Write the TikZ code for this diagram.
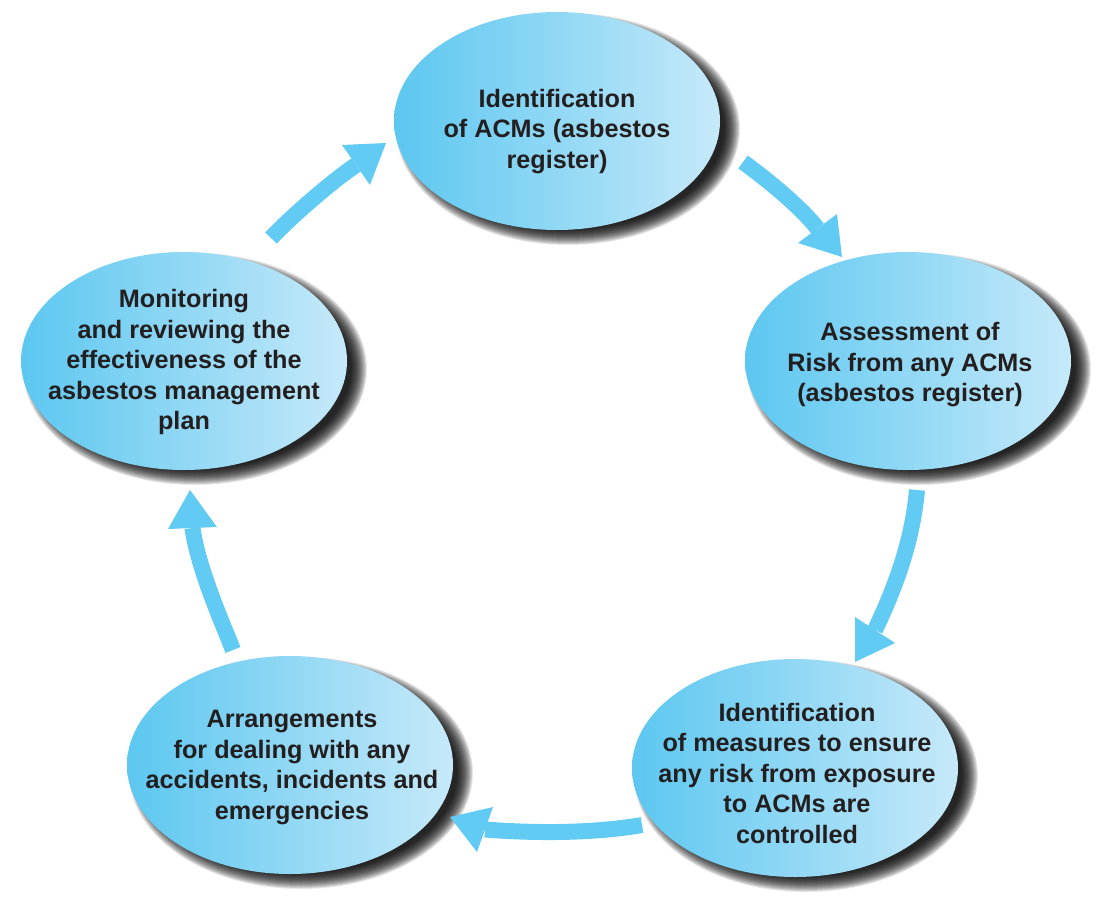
\documentclass[tikz,border=0pt]{standalone}
\usepackage{fontspec}
\setmainfont{Liberation Sans}
\usetikzlibrary{shapes.geometric}
\definecolor{ellL}{RGB}{92,199,240}
\definecolor{ellR}{RGB}{198,233,249}
\definecolor{arr}{RGB}{98,203,243}
\definecolor{txt}{RGB}{35,31,32}
\begin{document}
\begin{tikzpicture}[x=1pt,y=-1pt,
  stage/.style={ellipse, minimum width=326pt, minimum height=218pt, inner sep=0pt,
    left color=ellL, right color=ellR},
  lbl/.style={align=center, text=txt, font=\bfseries\fontsize{25.2}{30.5}\selectfont, inner sep=0pt},
  shaft/.style={draw=arr, line width=16pt},
  head/.style={fill=arr},
  shadowlayer/.style={fill=black, fill opacity=0.1, draw=none}]
\useasboundingbox[fill=white] (0,0) rectangle (1112,908);

% centres
\coordinate (c1) at (557,121);
\coordinate (c2) at (908,361);
\coordinate (c3) at (795,768);
\coordinate (c4) at (290,765);
\coordinate (c5) at (184,361);

% soft drop shadows (lower right)
\foreach \c in {c1,c2,c3,c4,c5}{
  \foreach \k in {0,...,16}{
    \fill[shadowlayer] ([shift={(11,8)}]\c) ellipse ({172-\k} and {116-\k});
  }
}

% stages
\node[stage] (e1) at (c1) {};
\node[stage] (e2) at (c2) {};
\node[stage] (e3) at (c3) {};
\node[stage] (e4) at (c4) {};
\node[stage] (e5) at (c5) {};

\node[lbl] (t1) at (557,131.5) {Identification\\of ACMs (asbestos\\register)};
\node[lbl] (t2) at (910,365) {Assessment of\\Risk from any ACMs\\(asbestos register)};
\node[lbl] (t3) at (797,773) {Identification\\of measures to ensure\\any risk from exposure\\to ACMs are\\controlled};
\node[lbl] (t4) at (292,767.5) {Arrangements\\for dealing with any\\accidents, incidents and\\emergencies};
\node[lbl] (t5) at (184,362) {Monitoring\\and reviewing the\\effectiveness of the\\asbestos management\\plan};

% arrow 1: e1 -> e2
\coordinate (a1s) at (743,162);
\coordinate (a1e) at (817.5,228.5);
\coordinate (a1t) at (842,257);
\draw[shaft] (a1s) .. controls (765,178) and (800,206) .. (a1e);
\fill[head] (798,243) -- (a1t) -- (837,214) -- cycle;

% arrow 2: e2 -> e3
\coordinate (a2s) at (917,490);
\coordinate (a2e) at (875,630);
\coordinate (a2t) at (855,662);
\draw[shaft] (a2s) .. controls (912.5,540) and (896.5,585) .. (a2e);
\fill[head] (855,617) -- (895,643) -- (a2t) -- cycle;

% arrow 3: e3 -> e4
\coordinate (a3s) at (642,825);
\coordinate (a3e) at (485,829.5);
\coordinate (a3t) at (450,817);
\draw[shaft] (a3s) .. controls (590,834) and (530,833) .. (a3e);
\fill[head] (493,807) -- (a3t) -- (477,852) -- cycle;

% arrow 4: e4 -> e5
\coordinate (a4s) at (233,650);
\coordinate (a4e) at (192.5,528);
\coordinate (a4t) at (190,490);
\draw[shaft] (a4s) .. controls (222,622) and (198,568) .. (a4e);
\fill[head] (168,529) -- (a4t) -- (217,527) -- cycle;

% arrow 5: e5 -> e1
\coordinate (a5s) at (271,238);
\coordinate (a5e) at (356,165);
\coordinate (a5t) at (386,143);
\draw[shaft] (a5s) .. controls (292,216) and (331,182) .. (a5e);
\fill[head] (342,145) -- (a5t) -- (370,185) -- cycle;
\end{tikzpicture}
\end{document}
